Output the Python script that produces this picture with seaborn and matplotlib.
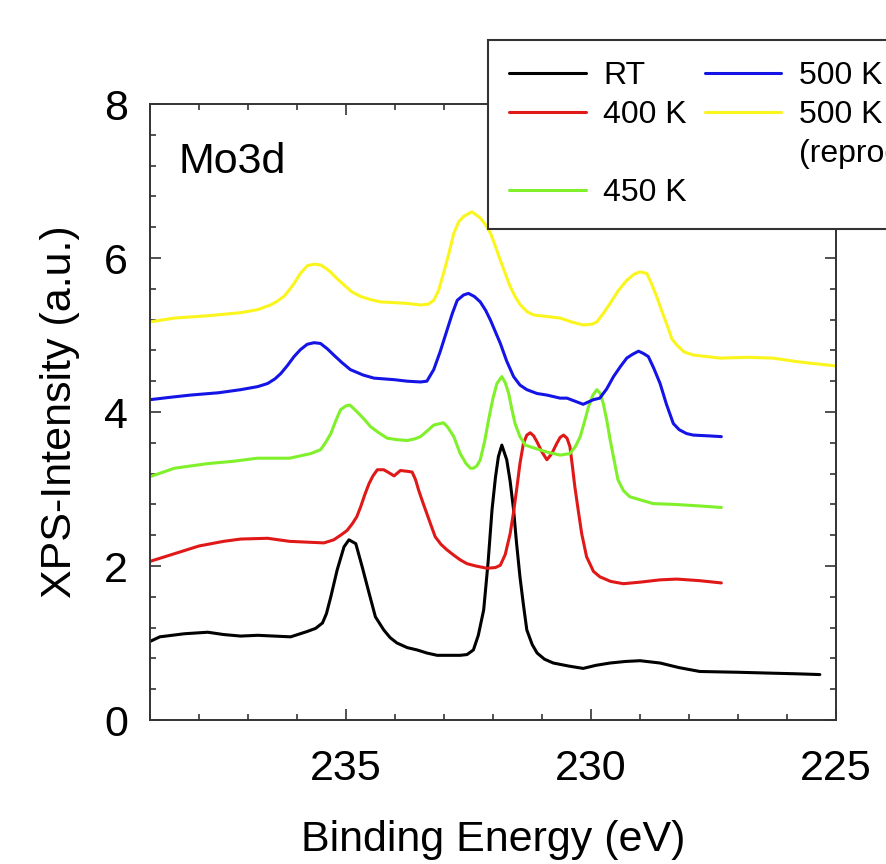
import numpy as np
import pandas as pd
import matplotlib
matplotlib.use("Agg")
import matplotlib.pyplot as plt
from matplotlib.lines import Line2D
from matplotlib.ticker import MultipleLocator
import seaborn as sns

# ---------------- data ----------------
rt_energy = [239.0, 238.8, 238.3, 237.82, 237.5, 237.15, 236.8, 236.47, 236.13, 235.79,
             235.62, 235.48, 235.4, 235.31, 235.18, 235.04, 234.94, 234.80, 234.67, 234.53,
             234.40, 234.23, 234.1, 233.96, 233.75, 233.55, 233.35, 233.14, 232.9, 232.67,
             232.53, 232.40, 232.3, 232.19, 232.1, 232.02, 231.95, 231.89, 231.82, 231.72,
             231.65, 231.58, 231.52, 231.45, 231.38, 231.31, 231.2, 231.10, 230.95, 230.77,
             230.45, 230.16, 229.9, 229.61, 229.3, 229.00, 228.59, 228.2, 227.78, 227.0,
             226.42, 225.8, 225.33]
rt_int = [1.02, 1.08, 1.12, 1.14, 1.11, 1.09, 1.10, 1.09, 1.08, 1.15,
          1.19, 1.26, 1.38, 1.60, 1.95, 2.25, 2.34, 2.29, 1.99, 1.65,
          1.34, 1.17, 1.07, 1.00, 0.94, 0.91, 0.87, 0.84, 0.84, 0.84,
          0.85, 0.91, 1.10, 1.43, 2.05, 2.73, 3.15, 3.42, 3.57, 3.38,
          3.10, 2.73, 2.30, 1.86, 1.50, 1.17, 0.98, 0.87, 0.79, 0.74,
          0.70, 0.67, 0.71, 0.74, 0.76, 0.77, 0.74, 0.68, 0.63, 0.62,
          0.61, 0.60, 0.59]

k400_energy = [239.0, 238.5, 238.0, 237.5, 237.15, 236.6, 236.15, 235.8, 235.45, 235.25,
               235.11, 234.98, 234.87, 234.78, 234.70, 234.62, 234.53, 234.45, 234.36, 234.23,
               234.12, 234.02, 233.89, 233.75, 233.65, 233.58, 233.52, 233.44, 233.35, 233.26,
               233.18, 233.06, 232.94, 232.8, 232.67, 232.53, 232.35, 232.12, 231.95, 231.85,
               231.75, 231.65, 231.58, 231.51, 231.45, 231.38, 231.31, 231.24, 231.17, 231.10,
               231.0, 230.90, 230.8, 230.70, 230.63, 230.56, 230.49, 230.43, 230.38, 230.33,
               230.26, 230.19, 230.09, 229.95, 229.82, 229.6, 229.34, 229.0, 228.59, 228.25,
               227.79, 227.34]
k400_int = [2.06, 2.16, 2.26, 2.32, 2.35, 2.36, 2.32, 2.31, 2.30, 2.34,
            2.40, 2.46, 2.55, 2.64, 2.77, 2.92, 3.07, 3.17, 3.25, 3.25,
            3.21, 3.17, 3.24, 3.23, 3.22, 3.12, 2.99, 2.84, 2.68, 2.52,
            2.38, 2.28, 2.21, 2.14, 2.08, 2.03, 2.00, 1.97, 1.98, 2.01,
            2.15, 2.42, 2.70, 3.03, 3.33, 3.59, 3.70, 3.73, 3.69, 3.61,
            3.48, 3.38, 3.46, 3.59, 3.67, 3.70, 3.66, 3.55, 3.30, 3.03,
            2.72, 2.42, 2.12, 1.93, 1.86, 1.80, 1.77, 1.79, 1.82, 1.83,
            1.81, 1.78]

k450_energy = [239.0, 238.5, 237.82, 237.3, 236.81, 236.15, 235.72, 235.52, 235.42, 235.31,
               235.2, 235.11, 235.0, 234.92, 234.77, 234.62, 234.50, 234.33, 234.16, 233.95,
               233.75, 233.60, 233.48, 233.35, 233.21, 233.01, 232.92, 232.80, 232.67, 232.55,
               232.46, 232.40, 232.33, 232.26, 232.17, 232.09, 232.0, 231.92, 231.82, 231.75,
               231.68, 231.62, 231.55, 231.45, 231.34, 231.1, 230.90, 230.63, 230.43, 230.32,
               230.22, 230.13, 230.05, 229.96, 229.88, 229.81, 229.75, 229.68, 229.61, 229.53,
               229.45, 229.34, 229.21, 229.0, 228.73, 228.3, 227.78, 227.34]
k450_int = [3.16, 3.27, 3.33, 3.36, 3.40, 3.40, 3.46, 3.51, 3.60, 3.72,
            3.90, 4.03, 4.08, 4.09, 4.00, 3.90, 3.81, 3.73, 3.66, 3.64,
            3.63, 3.65, 3.68, 3.75, 3.83, 3.86, 3.80, 3.68, 3.46, 3.33,
            3.27, 3.27, 3.30, 3.38, 3.62, 3.90, 4.18, 4.37, 4.46, 4.38,
            4.24, 4.05, 3.85, 3.68, 3.57, 3.52, 3.48, 3.44, 3.46, 3.55,
            3.68, 3.88, 4.07, 4.22, 4.29, 4.24, 4.11, 3.90, 3.64, 3.38,
            3.12, 2.98, 2.90, 2.86, 2.81, 2.80, 2.78, 2.76]

k500_energy = [239.0, 238.6, 238.17, 237.6, 237.15, 236.8, 236.6, 236.45, 236.33, 236.2,
               236.06, 235.93, 235.79, 235.65, 235.52, 235.38, 235.25, 235.08, 234.91, 234.65,
               234.43, 234.02, 233.75, 233.48, 233.35, 233.21, 233.08, 232.94, 232.83, 232.73,
               232.6, 232.50, 232.38, 232.26, 232.15, 232.05, 231.95, 231.85, 231.72, 231.58,
               231.45, 231.31, 231.10, 230.90, 230.63, 230.49, 230.16, 229.95, 229.82, 229.68,
               229.54, 229.4, 229.27, 229.15, 229.03, 228.93, 228.83, 228.72, 228.59, 228.46,
               228.32, 228.2, 228.05, 227.91, 227.6, 227.34]
k500_int = [4.16, 4.19, 4.22, 4.25, 4.29, 4.33, 4.37, 4.43, 4.50, 4.60,
            4.72, 4.81, 4.88, 4.90, 4.89, 4.82, 4.74, 4.64, 4.55, 4.48,
            4.44, 4.42, 4.40, 4.39, 4.40, 4.55, 4.78, 5.06, 5.28, 5.45,
            5.52, 5.54, 5.50, 5.43, 5.32, 5.19, 5.04, 4.89, 4.66, 4.46,
            4.35, 4.29, 4.24, 4.22, 4.18, 4.18, 4.10, 4.16, 4.18, 4.30,
            4.46, 4.59, 4.70, 4.75, 4.79, 4.76, 4.72, 4.57, 4.37, 4.10,
            3.85, 3.77, 3.72, 3.70, 3.69, 3.68]

k500r_energy = [239.0, 238.5, 237.82, 237.15, 236.8, 236.54, 236.4, 236.27, 236.15, 236.06,
                235.93, 235.79, 235.65, 235.52, 235.42, 235.32, 235.18, 235.04, 234.88, 234.70,
                234.5, 234.30, 234.0, 233.75, 233.48, 233.32, 233.21, 233.11, 233.01, 232.90,
                232.80, 232.70, 232.60, 232.43, 232.26, 232.15, 232.05, 231.95, 231.85, 231.75,
                231.65, 231.55, 231.44, 231.3, 231.17, 230.9, 230.63, 230.4, 230.16, 229.98,
                229.88, 229.75, 229.61, 229.45, 229.27, 229.12, 229.00, 228.86, 228.76, 228.66,
                228.56, 228.46, 228.35, 228.25, 228.1, 227.91, 227.37, 226.8, 226.29, 225.75,
                225.03]
k500r_int = [5.17, 5.22, 5.25, 5.29, 5.33, 5.39, 5.44, 5.50, 5.59, 5.67,
             5.80, 5.90, 5.92, 5.91, 5.87, 5.82, 5.73, 5.65, 5.56, 5.50,
             5.46, 5.43, 5.42, 5.41, 5.39, 5.40, 5.45, 5.58, 5.80, 6.06,
             6.32, 6.47, 6.54, 6.60, 6.52, 6.43, 6.32, 6.15, 5.97, 5.80,
             5.63, 5.50, 5.39, 5.30, 5.26, 5.24, 5.22, 5.17, 5.13, 5.14,
             5.17, 5.28, 5.41, 5.57, 5.71, 5.79, 5.82, 5.80, 5.66, 5.50,
             5.32, 5.15, 4.95, 4.87, 4.78, 4.74, 4.70, 4.71, 4.70, 4.65,
             4.60]

series_names = ["RT", "400 K", "450 K", "500 K", "500 K (repro)"]
series_colors = ["#000000", "#e01818", "#7ff02a", "#1414e6", "#fbf51e"]
x_ticks = [235, 230, 225]
y_ticks = [0, 2, 4, 6, 8]

frames = []
for name, e, v in zip(series_names,
                      [rt_energy, k400_energy, k450_energy, k500_energy, k500r_energy],
                      [rt_int, k400_int, k450_int, k500_int, k500r_int]):
    frames.append(pd.DataFrame({"energy": e, "intensity": v, "series": name}))
df = pd.concat(frames, ignore_index=True)

# ---------------- style ----------------
sns.set_style("ticks")
plt.rcParams["font.family"] = ["Liberation Sans", "DejaVu Sans"]
plt.rcParams["axes.edgecolor"] = "#333333"
plt.rcParams["axes.linewidth"] = 1.4
plt.rcParams["text.color"] = "black"
plt.rcParams["axes.labelcolor"] = "black"

fig = plt.figure(figsize=(8.87, 8.64), dpi=100)
ax = fig.add_axes([150 / 887, 144 / 864, 686 / 887, 616 / 864])

palette = dict(zip(series_names, series_colors))
sns.lineplot(data=df, x="energy", y="intensity", hue="series", palette=palette,
             hue_order=series_names, estimator=None, sort=False, lw=2.2,
             legend=False, ax=ax)

ax.set_xlim(239.0, 225.0)
ax.set_ylim(0, 8)
ax.set_xticks(x_ticks)
ax.set_yticks(y_ticks)
ax.xaxis.set_minor_locator(MultipleLocator(1))
ax.yaxis.set_minor_locator(MultipleLocator(0.4))
ax.tick_params(which="both", direction="in", top=True, right=True,
               color="#333333", width=1.2, labelcolor="black")
ax.tick_params(which="major", length=8, labelsize=31)
ax.tick_params(axis="x", which="major", pad=21)
ax.tick_params(axis="y", which="major", pad=16)
ax.tick_params(which="minor", length=4)

ax.set_xlabel("Binding Energy (eV)", fontsize=31, labelpad=22)
ax.set_ylabel("XPS-Intensity (a.u.)", fontsize=31, labelpad=17)

ax.text(0.041, 0.888, "Mo3d", transform=ax.transAxes, fontsize=31,
        va="baseline", ha="left")

# legend: 4 rows x 2 columns, column-major fill
blank = Line2D([], [], color="none")
handles = [
    Line2D([], [], color=series_colors[0], lw=2.2),
    Line2D([], [], color=series_colors[1], lw=2.2),
    blank,
    Line2D([], [], color=series_colors[2], lw=2.2),
    Line2D([], [], color=series_colors[3], lw=2.2),
    Line2D([], [], color=series_colors[4], lw=2.2),
    blank,
    blank,
]
labels = ["RT", "400 K", " ", "450 K", "500 K", "500 K", "(reproducibility)", " "]
leg = fig.legend(handles, labels, ncol=2, loc="upper left",
                 bbox_to_anchor=(488 / 887, 1 - 40 / 864),
                 bbox_transform=fig.transFigure, borderaxespad=0,
                 fontsize=23, frameon=True, fancybox=False, framealpha=1,
                 edgecolor="#333333", handlelength=2.4, handletextpad=0.55,
                 columnspacing=0.55, labelspacing=0.28, borderpad=0.66)
leg.get_frame().set_linewidth(1.5)

fig.savefig("out.png", dpi=100)
